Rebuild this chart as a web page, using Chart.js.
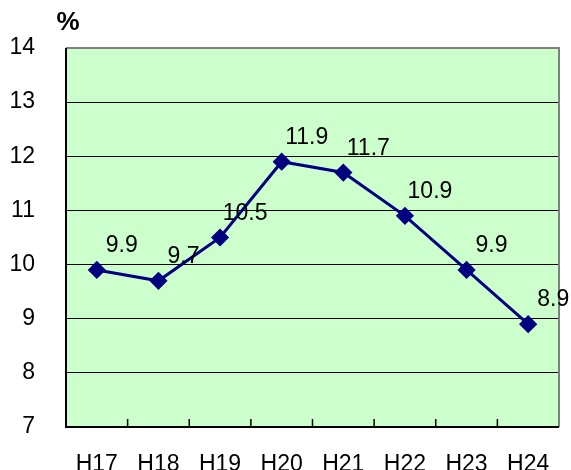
<!DOCTYPE html>
<html>
<head>
<meta charset="utf-8">
<script src="https://cdn.jsdelivr.net/npm/chart.js@4"></script>
<style>
  body { margin: 0; background: #fff; }
  #wrap { width: 571px; height: 470px; }
</style>
</head>
<body>
<div id="wrap"><canvas id="rateChart"></canvas></div>
<script>
// chart values
const years = ['H17', 'H18', 'H19', 'H20', 'H21', 'H22', 'H23', 'H24'];
const rates = [9.9, 9.7, 10.5, 11.9, 11.7, 10.9, 9.9, 8.9];
const yTicks = [7, 8, 9, 10, 11, 12, 13, 14];

const FONT = '"Liberation Sans", Arial, sans-serif';
const FSIZE = 23;

// background, border, inner ticks, value labels and unit
const decorations = {
    id: 'decorations',
    beforeDraw(chart) {
        const { ctx, chartArea: a } = chart;
        ctx.save();
        ctx.fillStyle = '#ccffcc';
        ctx.fillRect(a.left, a.top, a.right - a.left, a.bottom - a.top);
        ctx.restore();
    },
    afterDatasetsDraw(chart) {
        const { ctx, chartArea: a, scales } = chart;
        ctx.save();
        // gray top/right border
        ctx.strokeStyle = '#808080';
        ctx.lineWidth = 2;
        ctx.beginPath();
        ctx.moveTo(a.left, a.top);
        ctx.lineTo(a.right, a.top);
        ctx.lineTo(a.right, a.bottom);
        ctx.stroke();
        // black left/bottom axes
        ctx.strokeStyle = '#000';
        ctx.beginPath();
        ctx.moveTo(a.left, a.top);
        ctx.lineTo(a.left, a.bottom);
        ctx.lineTo(a.right, a.bottom);
        ctx.stroke();
        // inward category ticks
        ctx.lineWidth = 1.5;
        const x = scales.x;
        for (let i = 1; i < years.length; i++) {
            const px = (x.getPixelForValue(i - 1) + x.getPixelForValue(i)) / 2;
            ctx.beginPath();
            ctx.moveTo(px, a.bottom);
            ctx.lineTo(px, a.bottom - 8);
            ctx.stroke();
        }
        // value labels
        ctx.fillStyle = '#000';
        ctx.font = FSIZE + 'px ' + FONT;
        ctx.textAlign = 'center';
        ctx.textBaseline = 'middle';
        const meta = chart.getDatasetMeta(0);
        meta.data.forEach((pt, i) => {
            ctx.fillText(rates[i].toFixed(1), pt.x + 25, pt.y - 24);
        });
        // unit
        ctx.font = 'bold 26px ' + FONT;
        ctx.fillText('%', 68, 23);
        ctx.restore();
    }
};

const ctx = document.getElementById('rateChart').getContext('2d');
new Chart(ctx, {
    type: 'line',
    data: {
        labels: years,
        datasets: [{
            data: rates,
            borderColor: '#000080',
            backgroundColor: '#000080',
            borderWidth: 3,
            pointStyle: 'rectRot',
            pointRadius: 7,
            pointHoverRadius: 7,
            tension: 0
        }]
    },
    options: {
        responsive: true,
        maintainAspectRatio: false,
        animation: false,
        layout: { padding: { top: 48, right: 12, left: 0, bottom: 0 } },
        plugins: { legend: { display: false }, tooltip: { enabled: false } },
        scales: {
            x: {
                offset: true,
                grid: { display: false },
                border: { display: false },
                ticks: { color: '#000', font: { family: FONT, size: FSIZE }, padding: 16, maxRotation: 0, autoSkip: false },
                afterFit: s => { s.height = 43; s.paddingLeft = 0; s.paddingRight = 0; }
            },
            y: {
                min: 7,
                max: 14,
                afterBuildTicks: s => { s.ticks = yTicks.map(v => ({ value: v })); },
                grid: { color: '#000', lineWidth: 1, drawTicks: false },
                border: { display: false },
                ticks: { color: '#000', font: { family: FONT, size: FSIZE }, padding: 31 },
                afterFit: s => { s.width = 66; s.paddingTop = 0; s.paddingBottom = 0; }
            }
        }
    },
    plugins: [decorations]
});
</script>
</body>
</html>
